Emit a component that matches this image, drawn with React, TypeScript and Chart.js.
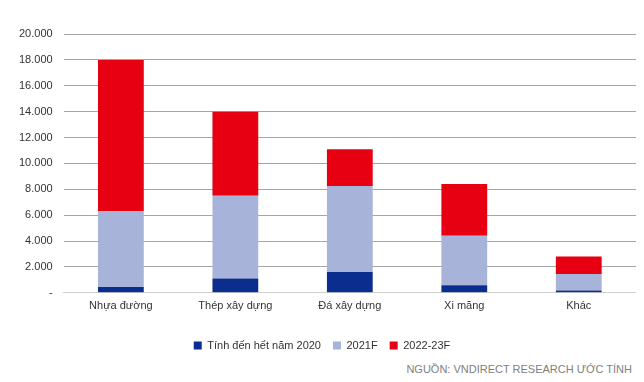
import React, { useEffect, useRef } from "react";
import { Chart, registerables } from "chart.js";

Chart.register(...registerables);

const categories = ["Nhựa đường", "Thép xây dựng", "Đá xây dựng", "Xi măng", "Khác"];
const seriesNames = ["Tính đến hết năm 2020", "2021F", "2022-23F"];
const until2020 = [450, 1100, 1600, 580, 180];
const f2021 = [5850, 6400, 6650, 3820, 1270];
const f2022_23 = [11700, 6500, 2850, 4000, 1350];
const yTickLabels = ["-", "2.000", "4.000", "6.000", "8.000", "10.000", "12.000", "14.000", "16.000", "18.000", "20.000"];
const sourceText = "NGUỒN: VNDIRECT RESEARCH ƯỚC TÍNH";

const FONT = "'Liberation Sans', Arial, sans-serif";

export default function App() {
  const ref = useRef<HTMLCanvasElement | null>(null);
  useEffect(() => {
    if (!ref.current) return;
    const chart = new Chart(ref.current, {
      type: "bar",
      data: {
        labels: categories,
        datasets: [
          { label: seriesNames[0], data: until2020, backgroundColor: "#0b2d8e", barPercentage: 0.4, categoryPercentage: 1 },
          { label: seriesNames[1], data: f2021, backgroundColor: "#a7b3d8", barPercentage: 0.4, categoryPercentage: 1 },
          { label: seriesNames[2], data: f2022_23, backgroundColor: "#e60012", barPercentage: 0.4, categoryPercentage: 1 },
        ],
      },
      options: {
        animation: false,
        responsive: false,
        maintainAspectRatio: false,
        layout: { padding: { top: 26, right: 0, left: 0, bottom: 0 } },
        plugins: {
          tooltip: { enabled: false },
          legend: {
            position: "bottom",
            labels: {
              boxWidth: 8,
              boxHeight: 8,
              padding: 12,
              color: "#333333",
              font: { family: FONT, size: 11 },
            },
          },
        },
        scales: {
          x: {
            stacked: true,
            grid: { display: false, drawTicks: false },
            border: { display: true, color: "#d0d0d0", width: 1 },
            ticks: { color: "#333333", font: { family: FONT, size: 11 }, padding: 7 },
            afterFit: (scale: any) => {
              scale.height += 8;
            },
          },
          y: {
            stacked: true,
            min: 0,
            max: 20000,
            border: { display: false },
            grid: { color: "#a6a6a6", lineWidth: 1, drawTicks: false },
            ticks: {
              stepSize: 2000,
              padding: 11,
              color: "#333333",
              font: { family: FONT, size: 11 },
              callback: (v: any) => yTickLabels[Math.round(Number(v) / 2000)] ?? "",
            },
          },
        },
      },
    });
    return () => chart.destroy();
  }, []);
  return (
    <div style={{ position: "relative", width: 628, height: 366 }}>
      <canvas ref={ref} width={628} height={353} style={{ display: "block", width: 628, height: 353 }} />
      <div
        style={{
          position: "absolute",
          right: 4,
          top: 355,
          fontFamily: FONT,
          fontSize: 11,
          color: "#808080",
          whiteSpace: "nowrap",
          lineHeight: "12px",
        }}
      >
        {sourceText}
      </div>
    </div>
  );
}
